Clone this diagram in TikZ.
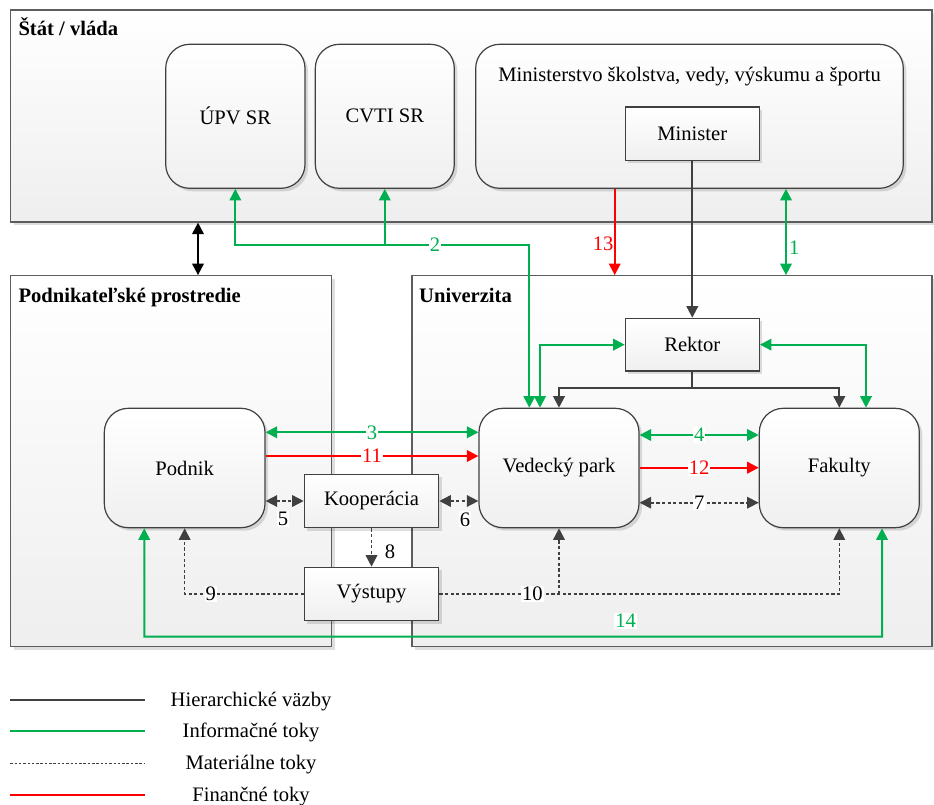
\documentclass[tikz,border=0pt]{standalone}
\usepackage{fontspec}
\setmainfont{Liberation Serif}
\usetikzlibrary{arrows.meta,shadows,calc}
\definecolor{grn}{HTML}{00B050}
\definecolor{dk}{HTML}{404040}
\definecolor{fin}{HTML}{FF0000}
\tikzset{
  shd/.style={drop shadow={shadow xshift=3pt,shadow yshift=-3pt,fill=black,opacity=0.13}},
  container/.style={draw=dk!85, line width=1.2pt, top color=white, bottom color=gray!13, shd, inner sep=0pt},
  rbox/.style={draw=dk, line width=1.2pt, rounded corners=24pt, top color=white, bottom color=gray!12, shd, inner sep=0pt, align=center},
  sbox/.style={draw=dk, line width=1.2pt, top color=white, bottom color=gray!12, shd, inner sep=0pt, align=center},
  ttl/.style={font=\fontsize{20.6}{24}\selectfont\bfseries, anchor=base west, inner sep=0pt},
  info/.style={draw=grn, line width=2pt},
  finl/.style={draw=fin, line width=2pt},
  hier/.style={draw=dk, line width=2pt},
  mat/.style={draw=dk, line width=1.6pt, dash pattern=on 3.2pt off 2.4pt},
  lbl/.style={fill=white, inner sep=1pt},
  lgtext/.style={inner sep=0pt}
}
\begin{document}
\begin{tikzpicture}[x=1pt,y=-1pt, font=\fontsize{20.6}{24}\selectfont,
  >={Triangle[length=11.5pt,width=11.5pt]}]
\useasboundingbox (0,0) rectangle (934,805);
\fill[white] (0,0) rectangle (934,805);

% containers
\node[container, minimum width=921.3pt, minimum height=212pt] (state) at (471.35,116) {};
\node[ttl] (statet) at (18.3,36) {Štát / vláda};
\node[container, minimum width=321pt, minimum height=371pt] (pod) at (171.2,461.2) {};
\node[ttl] (podt) at (18.3,302) {Podnikateľské prostredie};
\node[container, minimum width=520pt, minimum height=371pt] (uni) at (672,461.2) {};
\node[ttl] (unit) at (419,302) {Univerzita};

% state boxes
\node[rbox, minimum width=139.3pt, minimum height=144pt] (upv) at (235.35,116.3) {ÚPV SR};
\node[rbox, minimum width=139pt, minimum height=144pt] (cvti) at (384.8,116.3) {CVTI SR};
\node[rbox, minimum width=427.6pt, minimum height=144pt] (mins) at (689.5,116.3) {};
\node (minst) at (689.7,77) {Ministerstvo školstva, vedy, výskumu a športu};
\node[sbox, minimum width=134pt, minimum height=53.3pt] (min) at (692.3,133.65) {Minister};

% university / business boxes
\node[sbox, minimum width=134pt, minimum height=52.7pt] (rek) at (692.3,344.65) {Rektor};
\node[rbox, minimum width=160pt, minimum height=119.4pt] (vp) at (559,468) {Vedecký park};
\node[rbox, minimum width=160pt, minimum height=119.4pt] (fak) at (839.3,468) {Fakulty};
\node[rbox, minimum width=160.7pt, minimum height=119.4pt] (podnik) at (184.65,468) {Podnik};
\node[sbox, minimum width=134.4pt, minimum height=53.4pt] (koop) at (371.5,501) {Kooperácia};
\node[sbox, minimum width=134.4pt, minimum height=53.4pt] (vyst) at (371.5,594) {Výstupy};

% state <-> business
\coordinate (k0) at (198,0);
\draw[black, line width=2pt, <->] (state.south -| k0) -- (pod.north -| k0);

% 2
\coordinate (j2) at (529.3,245);
\draw[info,<->] (upv.south) |- (j2) -- (vp.north -| j2);
\draw[info,->] (cvti.south |- j2) -- (cvti.south);
\node[lbl,text=grn] (l2) at (435,245) {2};

% 13
\coordinate (s13) at ([xshift=-74.8pt]mins.south);
\draw[finl,->] (s13) -- (s13 |- uni.north);
\node[text=fin, anchor=east, inner sep=1pt] (l13) at (614.7,244) {13};

% 1
\coordinate (s1) at ([xshift=96.5pt]mins.south);
\draw[info,<->] (s1) -- (s1 |- uni.north);
\node[text=grn, anchor=west, inner sep=1pt] (l1) at (788,248) {1};

% Minister -> Rektor
\draw[hier,->] (min.south) -- (rek.north);

% Rektor -> VP, Fakulty
\coordinate (rb) at ([yshift=-16.7pt]rek.south);
\draw[hier] (rek.south) -- (rb);
\draw[hier,->] (rb) -| (vp.north);
\draw[hier,->] (rb) -| (fak.north);

% Rektor <-> VP, Fakulty (info)
\draw[info,<->] (rek.west) -| ([xshift=-19pt]vp.north);
\draw[info,<->] (rek.east) -| ([xshift=26.7pt]fak.north);

% 3, 11
\coordinate (a3) at ([yshift=35.7pt]podnik.east);
\draw[info,<->] (a3) -- (a3 -| vp.west) node[lbl,midway,text=grn] (l3) {3};
\coordinate (a11) at ([yshift=12pt]podnik.east);
\draw[finl,->] (a11) -- (a11 -| vp.west) node[lbl,midway,text=fin] (l11) {11};

% 4, 12, 7
\coordinate (a4) at ([yshift=33pt]vp.east);
\draw[info,<->] (a4) -- (a4 -| fak.west) node[lbl,midway,text=grn] (l4) {4};
\coordinate (a12) at ([yshift=0.3pt]vp.east);
\draw[finl,->] (a12) -- (a12 -| fak.west) node[lbl,midway,text=fin] (l12) {12};
\coordinate (a7) at ([yshift=-34.7pt]vp.east);
\draw[mat,<->] (a7) -- (a7 -| fak.west) node[lbl,midway] (l7) {7};

% 5, 6
\draw[mat,<->] (podnik.east |- koop.west) -- (koop.west);
\node[lbl] (l5) at (283,519.3) {5};
\draw[mat,<->] (koop.east) -- (vp.west |- koop.east);
\node[lbl] (l6) at (465,519.3) {6};

% 8
\draw[mat,->] (koop.south) -- (vyst.north);
\node[lbl] (l8) at (390,551.7) {8};

% 9
\draw[mat,->] (vyst.west) -| (podnik.south);
\node[lbl] (l9) at (210.7,594) {9};

% 10
\draw[mat,->] (vyst.east) -| (fak.south);
\draw[mat,->] (vyst.east -| vp.south) -- (vp.south);
\node[lbl] (l10) at (532.3,594) {10};

% 14
\coordinate (b14) at (144.3,636.7);
\draw[info,<->] ([xshift=-40.4pt]podnik.south) -- (b14) -| ([xshift=42.7pt]fak.south);
\node[lbl,text=grn] (l14) at (625.7,620.7) {14};

% legend
\coordinate (g1a) at (10.3,700); \coordinate (g1b) at (145,700);
\draw[hier] (g1a) -- (g1b);
\node[lgtext] (t1) at (251,701.5) {Hierarchické väzby};
\coordinate (g2a) at (10.3,731.3); \coordinate (g2b) at (145,731.3);
\draw[info] (g2a) -- (g2b);
\node[lgtext] (t2) at (251,732.5) {Informačné toky};
\coordinate (g3a) at (10.3,763.3); \coordinate (g3b) at (145,763.3);
\draw[draw=dk, line width=1.2pt, dash pattern=on 2.5pt off 1.8pt] (g3a) -- (g3b);
\node[lgtext] (t3) at (251,764.5) {Materiálne toky};
\coordinate (g4a) at (10.3,795); \coordinate (g4b) at (145,795);
\draw[finl] (g4a) -- (g4b);
\node[lgtext] (t4) at (251,796.5) {Finančné toky};
\end{tikzpicture}
\end{document}
